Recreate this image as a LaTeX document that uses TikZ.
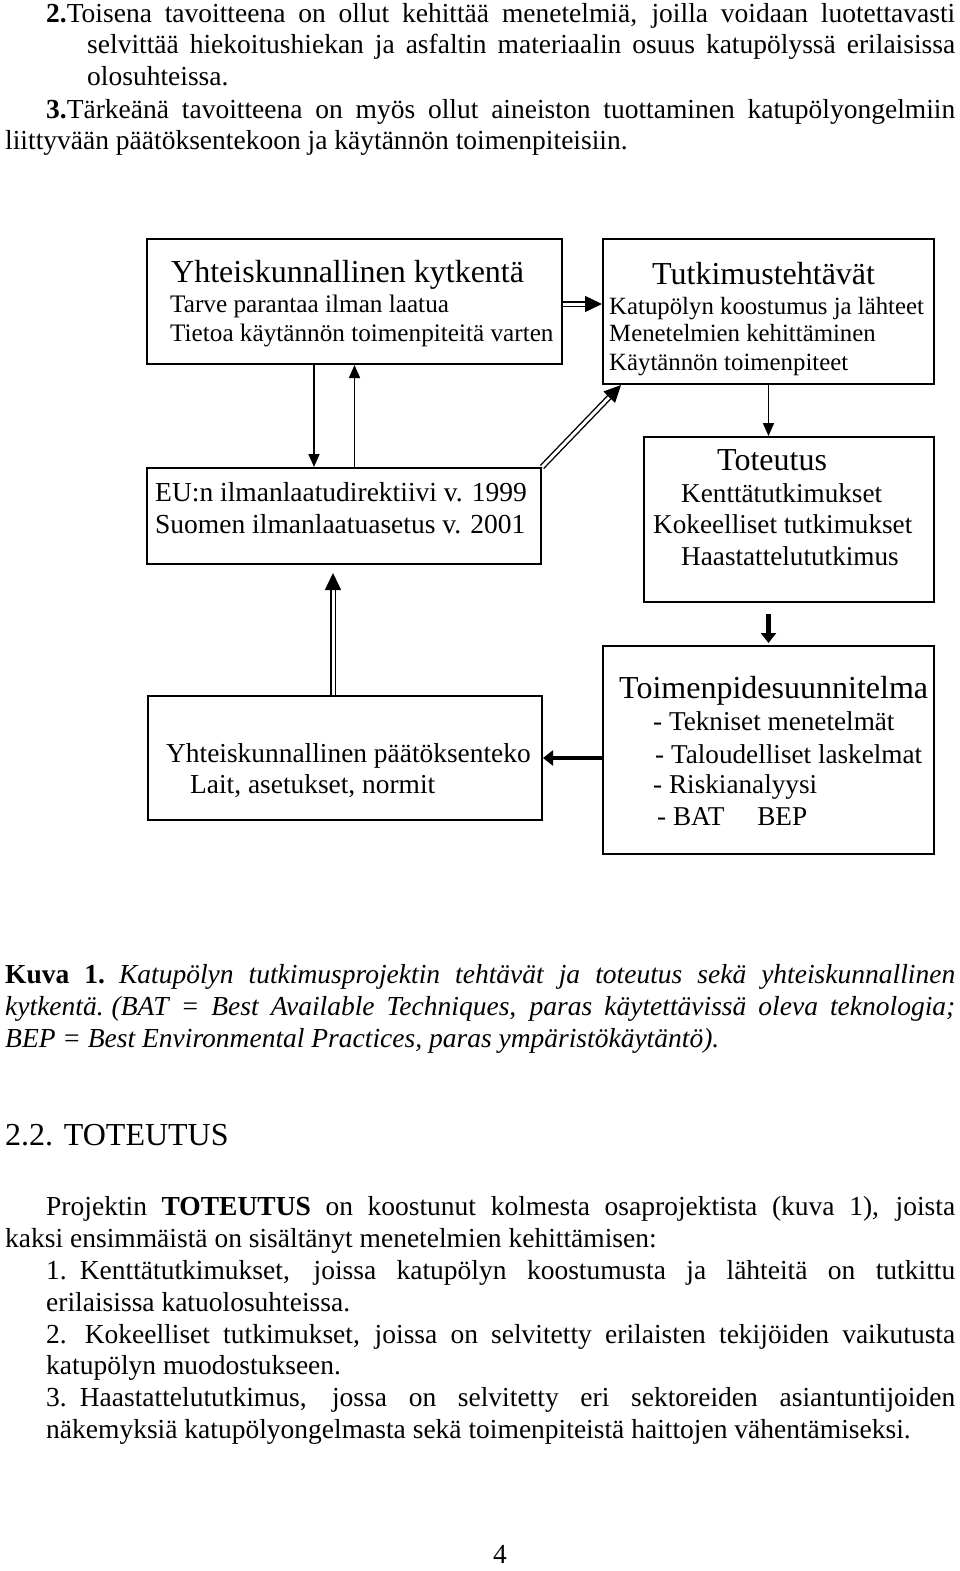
\documentclass[tikz,border=0pt]{standalone}
\usepackage{fontspec}
\setmainfont{Liberation Serif}
\usetikzlibrary{arrows.meta}
\newcommand\fsz[1]{\fontsize{#1}{#1}\selectfont}
\newcommand\jl[1]{\makebox[909pt][s]{#1}}
\newcommand\jf[1]{\makebox[950pt][s]{#1}}
\newcommand\jm[1]{\makebox[868pt][s]{#1}}
\tikzset{
  box/.style={draw, line width=2pt, inner sep=0pt},
  txt/.style={anchor=base west, inner sep=0pt},
  body/.style={txt, font=\fsz{27.5}},
  ttl/.style={txt, font=\fsz{32}},
  sub/.style={txt, font=\fsz{25.2}},
  subl/.style={txt, font=\fsz{27.2}},
  thinarrow/.style={line width=1.7pt, -{Triangle[length=13pt,width=11pt]}},
  dblarrow/.style={double, double distance=3pt, line width=1.4pt, -{Triangle[length=17pt,width=16pt]}},
  thickarrow/.style={line width=4.5pt, -{Triangle[length=10pt,width=15pt]}}
}
\begin{document}
\begin{tikzpicture}[x=1pt,y=-1pt]
\useasboundingbox (0,0) rectangle (960,1571);
% top paragraph
\node[body] (p1) at (46,23) {\jl{\textbf{2.}Toisena tavoitteena on ollut kehittää menetelmiä, joilla voidaan luotettavasti}};
\node[body] (p2) at (87,54) {\jm{selvittää hiekoitushiekan ja asfaltin materiaalin osuus katupölyssä erilaisissa}};
\node[body] (p3) at (87,85) {olosuhteissa.};
\node[body] (p4) at (46,118) {\jl{\textbf{3.}Tärkeänä tavoitteena on myös ollut aineiston tuottaminen katupölyongelmiin}};
\node[body] (p5) at (5,149) {liittyvään päätöksentekoon ja käytännön toimenpiteisiin.};

% boxes
\node[box, minimum width=415pt, minimum height=125pt] (A) at (354.5,301.5) {};
\node[box, minimum width=331pt, minimum height=145pt] (B) at (768.5,311.5) {};
\node[box, minimum width=394pt, minimum height=96pt] (C) at (344,516) {};
\node[box, minimum width=290pt, minimum height=165pt] (D) at (789,519.5) {};
\node[box, minimum width=331pt, minimum height=208pt] (E) at (768.5,750) {};
\node[box, minimum width=394pt, minimum height=124pt] (F) at (345,758) {};

% box texts
\node[ttl] (a1) at (171,282) {Yhteiskunnallinen kytkentä};
\node[sub] (a2) at (170,312) {Tarve parantaa ilman laatua};
\node[sub] (a3) at (170,341) {Tietoa käytännön toimenpiteitä varten};

\node[ttl] (b1) at (652,284) {Tutkimustehtävät};
\node[sub, font=\fsz{24.8}] (b2) at (609,314) {Katupölyn koostumus ja lähteet};
\node[sub, font=\fsz{24.8}] (b3) at (609,341) {Menetelmien kehittäminen};
\node[sub, font=\fsz{24.8}] (b4) at (609,370) {Käytännön toimenpiteet};

\node[subl, font=\fsz{27.5}] (c1) at (155,501) {EU:n ilmanlaatudirektiivi v. 1999};
\node[subl, font=\fsz{27.5}] (c2) at (155,533) {Suomen ilmanlaatuasetus v. 2001};

\node[ttl] (d1) at (717,470) {Toteutus};
\node[subl] (d2) at (681,502) {Kenttätutkimukset};
\node[subl] (d3) at (653,533) {Kokeelliset tutkimukset};
\node[subl] (d4) at (681,565) {Haastattelututkimus};

\node[ttl] (e1) at (619,698) {Toimenpidesuunnitelma};
\node[subl] (e2) at (653,730) {- Tekniset menetelmät};
\node[subl] (e3) at (655,763) {- Taloudelliset laskelmat};
\node[subl] (e4) at (653,793) {- Riskianalyysi};
\node[subl] (e5) at (657,825) {- BAT\hspace{26pt} BEP};

\node[subl, font=\fsz{27.4}] (f1t) at (166,762) {Yhteiskunnallinen päätöksenteko};
\node[subl, font=\fsz{27.4}] (f2t) at (190,793) {Lait, asetukset, normit};

% connectors
\coordinate (ac) at ([xshift=-40.5pt]A.south);
\draw[thinarrow] (ac) -- (ac |- C.north);
\draw[thinarrow] (C.north -| A.south) -- (A.south);
\draw[dblarrow] ([yshift=-2.5pt]A.east) -- ([yshift=-2.5pt]A.east -| B.west);
\draw[dblarrow] (C.north east) -- ([xshift=19pt]B.south west);
\draw[thinarrow] (B.south) -- (B.south |- D.north);
\coordinate (de) at (E.north |- D.south);
\draw[thickarrow] ([yshift=-11pt]de) -- ([yshift=2pt]E.north);
\draw[thickarrow] (E.west |- F.east) -- (F.east);
\coordinate (fc) at ([xshift=-12pt]F.north);
\coordinate (fc2) at (fc |- C.south);
\draw[dblarrow] (fc) -- ([yshift=-8pt]fc2);

% caption
\node[body] (k1) at (5,983) {\jf{\textbf{Kuva 1.}\hspace{14pt}\textit{Katupölyn tutkimusprojektin tehtävät ja toteutus sekä yhteiskunnallinen}}};
\node[body] (k2) at (5,1015) {\jf{\textit{kytkentä.\hspace{8pt}(BAT = Best Available Techniques, paras käytettävissä oleva teknologia;}}};
\node[body] (k3) at (5,1047) {\textit{BEP = Best Environmental Practices, paras ympäristökäytäntö).}};

% heading
\node[ttl] (h) at (5,1145) {2.2. TOTEUTUS};

% paragraph
\node[body] (q1) at (46,1215) {\jl{Projektin \textbf{TOTEUTUS} on koostunut kolmesta osaprojektista (kuva 1), joista}};
\node[body] (q2) at (5,1247) {kaksi ensimmäistä on sisältänyt menetelmien kehittämisen:};
\node[body] (q3) at (46,1279) {\jl{1.\hspace{13pt}Kenttätutkimukset, joissa katupölyn koostumusta ja lähteitä on tutkittu}};
\node[body] (q4) at (46,1311) {erilaisissa katuolosuhteissa.};
\node[body] (q5) at (46,1343) {\jl{2.\hspace{18pt}Kokeelliset tutkimukset, joissa on selvitetty erilaisten tekijöiden vaikutusta}};
\node[body] (q6) at (46,1374) {katupölyn muodostukseen.};
\node[body] (q7) at (46,1406) {\jl{3.\hspace{13pt}Haastattelututkimus, jossa on selvitetty eri sektoreiden asiantuntijoiden}};
\node[body] (q8) at (46,1438) {näkemyksiä katupölyongelmasta sekä toimenpiteistä haittojen vähentämiseksi.};

\node[body, anchor=base] (pg) at (500,1563) {4};
\end{tikzpicture}
\end{document}
